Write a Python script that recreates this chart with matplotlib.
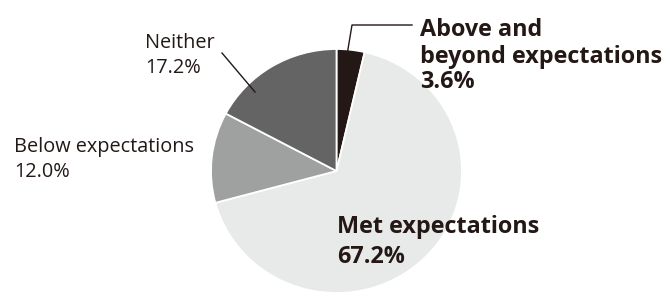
import matplotlib.pyplot as plt

labels = ['Above and\nbeyond expectations', 'Met expectations', 'Below expectations', 'Neither']
values = [3.6, 67.2, 12.0, 17.2]
colors = ['#231815', '#e8e9e9', '#9fa0a0', '#646464']

ink = '#231815'
W, H = 671, 299
cx, cy = 336.5, 171.0      # pie centre in pixels (y from top)
rx, ry = 125.5, 122.0      # pie radius in pixels

fig = plt.figure(figsize=(W / 100, H / 100), dpi=100)
ax = fig.add_axes([0, 0, 1, 1])
ax.pie(values, colors=colors, startangle=90, counterclock=False,
       wedgeprops=dict(edgecolor='white', linewidth=1.3))
ax.set_xlim(-cx / rx, (W - cx) / rx)
ax.set_ylim(-(H - cy) / ry, cy / ry)
ax.set_aspect('auto')
ax.axis('off')

# helper: pixel -> data
def px(x, y):
    return (x - cx) / rx, (cy - y) / ry

reg = dict(family='Open Sans', color=ink, fontsize=14.3)
bold = dict(family='Open Sans', color=ink, fontsize=16.8, fontweight='bold')

# Neither
ax.text(*px(145, 48), 'Neither', va='baseline', ha='left', **reg)
ax.text(*px(145, 73), '%.1f%%' % values[3], va='baseline', ha='left', **reg)
ax.plot(*zip(px(222, 53), px(255, 92)), color=ink, lw=1)

# Below expectations
ax.text(*px(14, 152), labels[2], va='baseline', ha='left', **reg)
ax.text(*px(14, 177), '%.1f%%' % values[2], va='baseline', ha='left', **reg)

# Met expectations
ax.text(*px(337, 233), labels[1], va='baseline', ha='left', **bold)
ax.text(*px(337, 263), '%.1f%%' % values[1], va='baseline', ha='left', **bold)

# Above and beyond
first, second = labels[0].split('\n')
ax.text(*px(420, 36), first, va='baseline', ha='left', **bold)
ax.text(*px(420, 63), second, va='baseline', ha='left', **bold)
ax.text(*px(420, 88), '%.1f%%' % values[0], va='baseline', ha='left', **bold)
pts = [px(347, 55), px(352, 25), px(412, 25)]
ax.plot([p[0] for p in pts], [p[1] for p in pts], color=ink, lw=1)

fig.savefig('out.png', dpi=100)
